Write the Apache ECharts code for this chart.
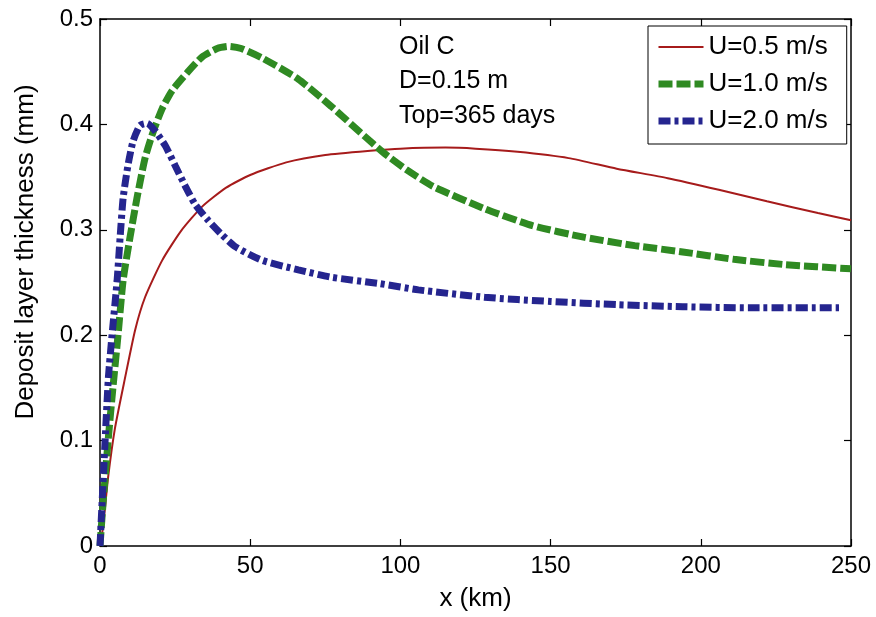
<!DOCTYPE html>
<html>
<head>
<meta charset="utf-8">
<script src="https://cdn.jsdelivr.net/npm/echarts@6/dist/echarts.min.js"></script>
<style>
html,body{margin:0;padding:0;background:#fff;}
#chart{width:876px;height:617px;}
</style>
</head>
<body>
<div id="chart"></div>
<script>
// ---- data ----
const seriesNames = ['U=0.5 m/s', 'U=1.0 m/s', 'U=2.0 m/s'];

const redX = [0, 1, 2.7, 5, 8.3, 11.7, 15, 20.7, 27, 34, 42, 50, 62, 75, 90, 100, 115, 125, 139, 156, 172, 189, 206, 222, 239, 250];
const redY = [0, 0.018, 0.065, 0.112, 0.159, 0.205, 0.236, 0.271, 0.299, 0.322, 0.340, 0.352, 0.364, 0.371, 0.375, 0.377, 0.378, 0.377, 0.374, 0.368, 0.358, 0.349, 0.338, 0.327, 0.316, 0.309];

const greenX = [0, 1, 2.7, 4.3, 6, 7.7, 10, 12.3, 15, 17.7, 20.7, 24, 29, 34, 39, 43, 47, 54, 66, 77, 88, 94, 102, 111, 128, 144, 161, 178, 194, 211, 228, 250];
const greenY = [0, 0.04, 0.1, 0.15, 0.2, 0.252, 0.293, 0.33, 0.368, 0.393, 0.415, 0.432, 0.449, 0.464, 0.472, 0.474, 0.472, 0.463, 0.443, 0.417, 0.389, 0.374, 0.357, 0.341, 0.32, 0.304, 0.293, 0.285, 0.279, 0.272, 0.267, 0.263];

const blueX = [0, 1.7, 2.8, 4, 5.7, 6.7, 7.7, 9.3, 11, 13.3, 15.7, 18.3, 21.7, 25, 28.3, 31.7, 36, 40.7, 45, 54, 66, 77, 93, 106, 128, 150, 172, 194, 217, 246];
const blueY = [0, 0.1, 0.16, 0.2, 0.252, 0.293, 0.33, 0.361, 0.384, 0.399, 0.401, 0.394, 0.38, 0.361, 0.342, 0.324, 0.309, 0.295, 0.284, 0.271, 0.262, 0.255, 0.249, 0.243, 0.236, 0.232, 0.229, 0.227, 0.226, 0.226];

const xTicks = [0, 50, 100, 150, 200, 250];
const yTicks = [0, 0.1, 0.2, 0.3, 0.4, 0.5];
const annotations = ['Oil C', 'D=0.15 m', 'Top=365 days'];
const xAxisName = 'x (km)';
const yAxisName = 'Deposit layer thickness (mm)';

// ---- chart ----
const FONT = '"Liberation Sans", Arial, Helvetica, sans-serif';
const pair = (xs, ys) => xs.map((x, i) => [x, ys[i]]);

const chart = echarts.init(document.getElementById('chart'), null, {renderer: 'canvas'});

const axisLineStyle = {show: true, onZero: false, lineStyle: {color: '#000', width: 1.5}};
const tickStyle = {show: true, inside: true, length: 7, lineStyle: {color: '#000', width: 1.2}};

const option = {
  backgroundColor: '#fff',
  animation: false,
  grid: {left: 100, right: 25, top: 19, bottom: 65, containLabel: false},
  xAxis: [{
    type: 'value', min: xTicks[0], max: xTicks[xTicks.length - 1], interval: 50,
    position: 'bottom',
    axisLine: axisLineStyle, axisTick: tickStyle, splitLine: {show: false},
    axisLabel: {fontFamily: FONT, fontSize: 24, color: '#000', margin: 8},
    name: xAxisName, nameLocation: 'middle', nameGap: 40,
    nameTextStyle: {fontFamily: FONT, fontSize: 26, color: '#000'}
  }, {
    type: 'value', min: xTicks[0], max: xTicks[xTicks.length - 1], interval: 50,
    position: 'top',
    axisLine: axisLineStyle, axisTick: tickStyle, splitLine: {show: false},
    axisLabel: {show: false}
  }],
  yAxis: [{
    type: 'value', min: yTicks[0], max: yTicks[yTicks.length - 1], interval: 0.1,
    position: 'left',
    axisLine: axisLineStyle, axisTick: tickStyle, splitLine: {show: false},
    axisLabel: {fontFamily: FONT, fontSize: 24, color: '#000', margin: 7}
  }, {
    type: 'value', min: yTicks[0], max: yTicks[yTicks.length - 1], interval: 0.1,
    position: 'right',
    axisLine: axisLineStyle, axisTick: tickStyle, splitLine: {show: false},
    axisLabel: {show: false}
  }],
  legend: {
    left: 648, top: 26,
    orient: 'vertical',
    backgroundColor: '#fff',
    borderColor: '#000', borderWidth: 1,
    padding: [8, 19, 10, 7],
    itemWidth: 45, itemHeight: 14, itemGap: 11,
    itemStyle: {opacity: 0},
    lineStyle: {width: 'inherit'},
    textStyle: {fontFamily: FONT, fontSize: 26, lineHeight: 26, color: '#000'},
    data: seriesNames
  },
  graphic: annotations.map((t, i) => ({
    type: 'text', x: 399, y: 47 + i * 34.5,
    style: {text: t, fontFamily: FONT, fontSize: 25, fill: '#000', verticalAlign: 'middle', align: 'left'}
  })).concat([{
    type: 'text', x: 26, y: 252, rotation: Math.PI / 2,
    style: {text: yAxisName, fontFamily: FONT, fontSize: 26, fill: '#000', verticalAlign: 'middle', align: 'center'}
  }]),
  series: [{
    name: seriesNames[0], type: 'line', data: pair(redX, redY),
    symbol: 'none', smooth: 0.2,
    lineStyle: {color: '#a61b1b', width: 2},
    itemStyle: {color: '#a61b1b'}, z: 2
  }, {
    name: seriesNames[1], type: 'line', data: pair(greenX, greenY),
    symbol: 'none', smooth: 0.2,
    lineStyle: {color: '#2f8a22', width: 7, type: [14, 4], cap: 'butt'},
    itemStyle: {color: '#2f8a22'}, z: 3
  }, {
    name: seriesNames[2], type: 'line', data: pair(blueX, blueY),
    symbol: 'none', smooth: 0.2,
    lineStyle: {color: '#25258f', width: 7, type: [12, 4, 4, 4], cap: 'butt'},
    itemStyle: {color: '#25258f'}, z: 4
  }]
};
chart.setOption(option);
</script>
</body>
</html>
